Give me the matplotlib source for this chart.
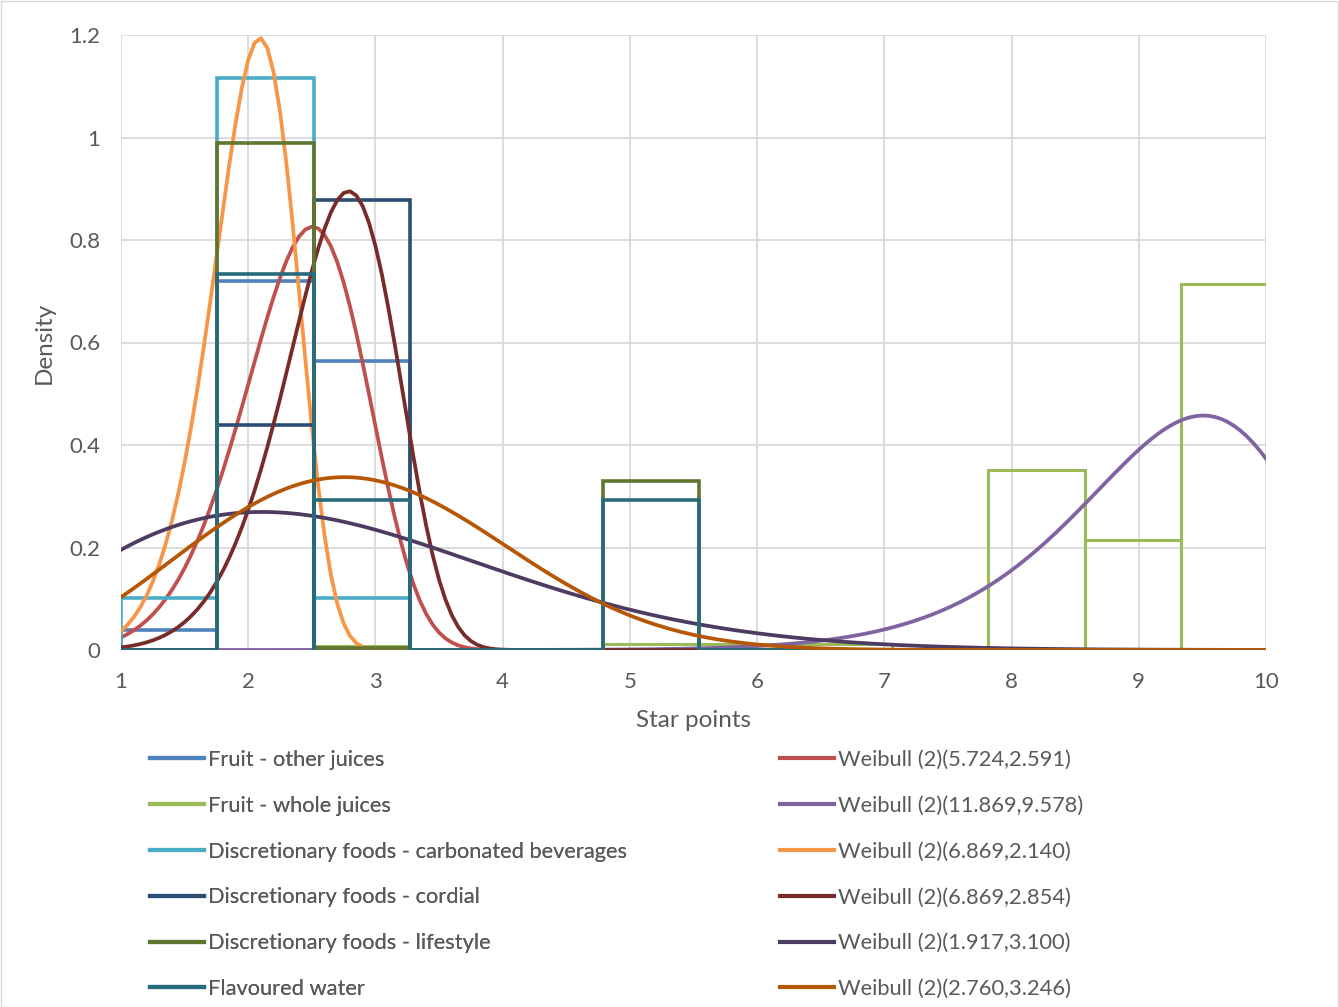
import numpy as np
import matplotlib
matplotlib.use("Agg")
import matplotlib.pyplot as plt
from matplotlib.lines import Line2D

plt.rcParams['font.family'] = ['Lato', 'DejaVu Sans']

# ---- data ----
bin_start = 1.0
bin_width = 0.7576
n_bins = 12

hist_names = [
    "Fruit - other juices",
    "Fruit - whole juices",
    "Discretionary foods - carbonated beverages",
    "Discretionary foods - cordial",
    "Discretionary foods - lifestyle",
    "Flavoured water",
]
other_juices = [0.040, 0.720, 0.563, 0, 0, 0, 0, 0, 0, 0, 0, 0]
whole_juices = [0, 0, 0.007, 0, 0, 0.011, 0.011, 0.011, 0, 0.352, 0.214, 0.715]
carbonated = [0.102, 1.116, 0.102, 0, 0, 0, 0, 0, 0, 0, 0, 0]
cordial = [0, 0.440, 0.879, 0, 0, 0, 0, 0, 0, 0, 0, 0]
lifestyle = [0, 0.990, 0.003, 0, 0, 0.330, 0, 0, 0, 0, 0, 0]
flavoured_water = [0, 0.733, 0.293, 0, 0, 0.293, 0, 0, 0, 0, 0, 0]
hist_values = [other_juices, whole_juices, carbonated, cordial, lifestyle, flavoured_water]

weibull_shape = [5.724, 11.869, 6.869, 6.869, 1.917, 2.760]
weibull_scale = [2.591, 9.578, 2.140, 2.854, 3.100, 3.246]

hist_colors = ["#4F81BD", "#9BBB59", "#4BACC6", "#2C4D75", "#5F7530", "#276A7C"]
weib_colors = ["#C0504D", "#8064A2", "#F79646", "#772C2A", "#4D3B62", "#B65708"]

# ---- figure ----
W, H = 1339, 1007
fig = plt.figure(figsize=(W / 100, H / 100), dpi=100)
ax = fig.add_axes([121 / W, 1 - 650 / H, (1266 - 121) / W, (650 - 35) / H])

edges = bin_start + bin_width * np.arange(n_bins + 1)
xs = np.linspace(1, 10, 181)

def weibull_pdf(x, k, lam):
    return (k / lam) * (x / lam) ** (k - 1) * np.exp(-(x / lam) ** k)

hist_handles, weib_handles = [], []
for i in range(6):
    px, py = [], []
    for j, h in enumerate(hist_values[i]):
        l, r = edges[j], edges[j + 1]
        px += [l, l, r, r]
        py += [0, h, h, 0]
    ax.plot(px, py, color=hist_colors[i], lw=2.6 if i != 1 else 2.2,
            solid_joinstyle='miter', clip_on=True, zorder=3 + 2 * i)
    hist_handles.append(Line2D([], [], color=hist_colors[i], lw=3))
    ys = weibull_pdf(xs, weibull_shape[i], weibull_scale[i])
    ax.plot(xs, ys, color=weib_colors[i], lw=2.7, zorder=4 + 2 * i)
    weib_handles.append(Line2D([], [], color=weib_colors[i], lw=3))

weib_names = [f"Weibull (2)({k:.3f},{l:.3f})" for k, l in zip(weibull_shape, weibull_scale)]

ax.set_xlim(1, 10)
ax.set_ylim(0, 1.2)
ax.set_xticks(range(1, 11))
ax.set_yticks([0, 0.2, 0.4, 0.6, 0.8, 1.0, 1.2])
ax.set_yticklabels(["0", "0.2", "0.4", "0.6", "0.8", "1", "1.2"])
ax.grid(True, color="#D9D9D9", lw=1.3, zorder=0)
ax.set_axisbelow(True)
for s in ax.spines.values():
    s.set_visible(False)
ax.tick_params(length=0, labelsize=16, colors="#595959")
ax.tick_params(axis='x', pad=16)
ax.tick_params(axis='y', pad=15)
ax.set_xlabel("Star points", fontsize=17.5, color="#595959", labelpad=13)
ax.set_ylabel("Density", fontsize=17.5, color="#595959", labelpad=10)

leg_kw = dict(frameon=False, fontsize=15.75, labelcolor="#595959", handlelength=2.45,
              handletextpad=0.2, labelspacing=1.18, borderpad=0, borderaxespad=0,
              loc="upper left")
leg1 = fig.legend(hist_handles, hist_names, bbox_to_anchor=(150 / W, 1 - 750 / H), **leg_kw)
fig.add_artist(leg1)
fig.legend(weib_handles, weib_names, bbox_to_anchor=(780 / W, 1 - 750 / H), **leg_kw)

# outer border
fig.patches.append(plt.Rectangle((0.5 / W, 0.5 / H), 1 - 1.5 / W, 1 - 1.5 / H, transform=fig.transFigure,
                                 fill=False, edgecolor="#D9D9D9", lw=1))

fig.savefig("out.png", dpi=100)
